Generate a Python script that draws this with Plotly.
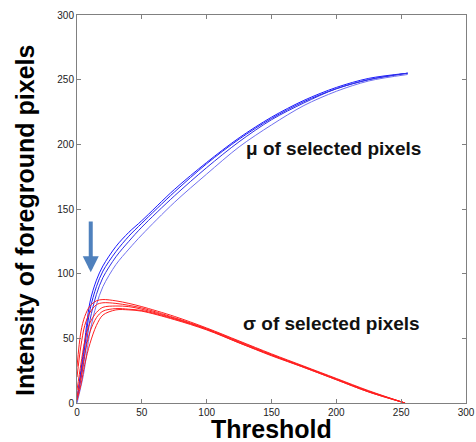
import plotly.graph_objects as go

# Threshold samples and curve values
mu_x = [0, 5, 10, 15, 20, 30, 40, 50, 75, 100, 125, 150, 175, 200, 225, 255]
mu_a = [3, 40, 78, 95, 106, 121, 132, 141, 165, 186, 205, 221, 234, 244, 251, 255]
mu_b = [2, 36, 72, 90, 102, 117, 129, 139, 163, 185, 204, 220, 233, 243, 250, 255]
mu_c = [1, 30, 64, 84, 97, 113, 125, 136, 160, 182, 202, 219, 232, 243, 250, 255]
mu_d = [0, 22, 55, 76, 90, 107, 119, 130, 155, 177, 198, 215, 230, 241, 249, 254]

sg_x = [0, 3, 6, 10, 15, 20, 30, 40, 50, 75, 100, 125, 150, 175, 200, 225, 253]
sg_a = [28, 55, 67, 75, 79, 80, 79, 77, 74.5, 67, 58, 48, 38, 28.5, 19, 9.5, 0]
sg_b = [20, 44, 60, 70, 76, 77.5, 77, 75.5, 73.5, 66, 57.5, 47.5, 37.5, 28, 18.5, 9, 0]
sg_c = [10, 30, 48, 62, 70, 74, 75, 74.5, 72.5, 65.5, 57, 47, 37, 28, 18.5, 9, 0]
sg_d = [5, 20, 38, 55, 66, 71, 73, 72.5, 71.5, 65, 57, 46.5, 37, 27.5, 18, 8.5, 0]
sg_e = [2, 14, 30, 46, 60, 68, 72, 72, 71, 64.5, 56.5, 46.5, 36.5, 27.5, 18, 8.5, 0]

x_ticks = [0, 50, 100, 150, 200, 250, 300]
y_ticks = [0, 50, 100, 150, 200, 250, 300]

fig = go.Figure()
for ys, col in [(mu_a, "#1a1aff"), (mu_b, "#2020f0"), (mu_c, "#3030e8"), (mu_d, "#7070f0")]:
    fig.add_trace(go.Scatter(x=mu_x, y=ys, mode="lines",
                             line=dict(color=col, width=1, shape="spline", smoothing=0.9),
                             hoverinfo="skip", showlegend=False))
for ys in [sg_a, sg_b, sg_c, sg_d, sg_e]:
    fig.add_trace(go.Scatter(x=sg_x, y=ys, mode="lines",
                             line=dict(color="#ff2020", width=1, shape="spline", smoothing=0.9),
                             hoverinfo="skip", showlegend=False, cliponaxis=True))

axis_common = dict(
    showline=True, linecolor="#808080", linewidth=1, mirror="ticks",
    ticks="inside", ticklen=4, tickcolor="#808080", tickwidth=1,
    showgrid=False, zeroline=False, automargin=False,
    tickfont=dict(family="Liberation Sans, Arial", size=10, color="#222222"),
)
fig.update_xaxes(range=[0, 300], tickvals=x_ticks, ticktext=[str(v) for v in x_ticks], **axis_common)
fig.update_yaxes(range=[0, 300], tickvals=y_ticks, ticktext=[str(v) for v in y_ticks], **axis_common)

title_font = dict(family="Liberation Sans, Arial", size=25, color="#000000")
text_font = dict(family="Liberation Sans, Arial", size=19, color="#111111")
fig.update_layout(
    width=476, height=442, autosize=False,
    margin=dict(l=77, r=10, t=15, b=39),
    paper_bgcolor="white", plot_bgcolor="white",
    annotations=[
        dict(text="<b>Threshold</b>", xref="paper", yref="paper", x=0.5, y=-0.067,
             xanchor="center", yanchor="middle", showarrow=False, font=title_font),
        dict(text="<b>Intensity of foreground pixels</b>", xref="paper", yref="paper",
             x=0, y=0.469, xanchor="center", yanchor="middle", xshift=-52,
             textangle=-90, showarrow=False, font=title_font),
        dict(text="<b>μ of selected pixels</b>", xref="x", yref="y", x=198, y=197,
             xanchor="center", yanchor="middle", showarrow=False, font=text_font),
        dict(text="<b>σ of selected pixels</b>", xref="x", yref="y", x=196.4, y=61.8,
             xanchor="center", yanchor="middle", showarrow=False, font=text_font),
        dict(text="", xref="x", yref="y", x=10.6, y=101, axref="x", ayref="y",
             ax=10.6, ay=141.5, showarrow=True, arrowhead=2, arrowsize=0.8,
             arrowwidth=4, arrowcolor="#4f81bd"),
    ],
)

fig.write_html(
    "out.html",
    config={"responsive": False, "displayModeBar": False},
    post_script="document.body.style.margin='0';document.body.style.overflow='hidden';",
)
